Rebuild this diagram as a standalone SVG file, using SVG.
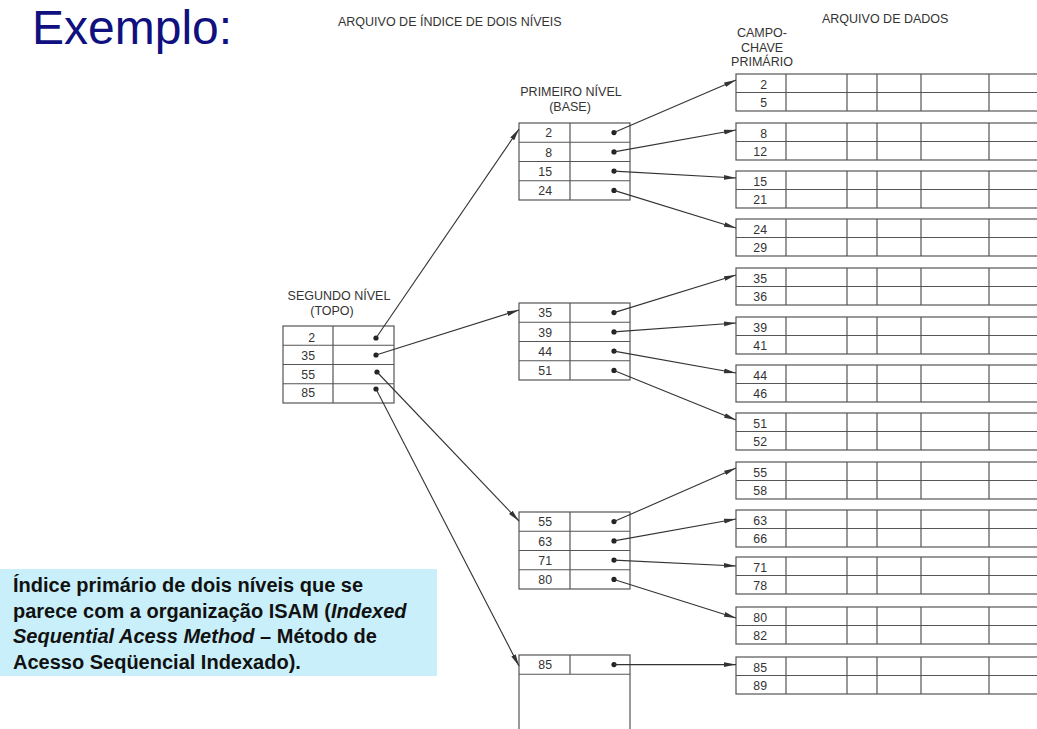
<svg xmlns="http://www.w3.org/2000/svg" width="1037" height="729" viewBox="0 0 1037 729">
<style>
.c{fill:none;stroke:#555;stroke-width:1.2}
.n{font-family:"Liberation Sans",Arial,sans-serif;font-size:12.3px;fill:#333;text-anchor:end}
.h{font-family:"Liberation Sans",Arial,sans-serif;font-size:12.5px;fill:#333}
.m{text-anchor:middle}
.dot{fill:#222}
.ln{fill:none;stroke:#333;stroke-width:1.1;marker-end:url(#ah)}
.box{font-family:"Liberation Sans",Arial,sans-serif;font-size:20px;font-weight:bold;fill:#111}
</style>
<defs>
<marker id="ah" viewBox="0 0 12 6" refX="12" refY="3" markerWidth="12" markerHeight="6" markerUnits="userSpaceOnUse" orient="auto">
<path d="M0 0.6L12 3L0 5.4Z" fill="#333"/>
</marker>
</defs>
<rect width="1037" height="729" fill="#fff"/>

<g id="title"><text x="32" y="44" font-family="Liberation Sans, Arial, sans-serif" font-size="48" fill="#10107f">Exemplo:</text></g>

<g id="headers">
<text class="h" x="338" y="26">ARQUIVO DE ÍNDICE DE DOIS NÍVEIS</text>
<text class="h" x="822" y="23">ARQUIVO DE DADOS</text>
<text class="h m" x="762" y="37">CAMPO-</text>
<text class="h m" x="762" y="51.5">CHAVE</text>
<text class="h m" x="762" y="66">PRIMÁRIO</text>
<text class="h m" x="571" y="96">PRIMEIRO NÍVEL</text>
<text class="h m" x="570" y="111">(BASE)</text>
<text class="h m" x="339" y="300">SEGUNDO NÍVEL</text>
<text class="h m" x="332" y="315">(TOPO)</text>
</g>

<g id="second-level">
<rect class="c" x="283" y="326" width="111" height="77"/>
<path class="c" d="M283 345.25H394M283 364.5H394M283 383.75H394M333 326V403"/>
<text class="n" x="315" y="342">2</text>
<text class="n" x="315" y="359.5">35</text>
<text class="n" x="315" y="378.5">55</text>
<text class="n" x="315" y="396.5">85</text>
<circle class="dot" cx="376" cy="338" r="2.6"/>
<circle class="dot" cx="376" cy="355" r="2.6"/>
<circle class="dot" cx="377" cy="372" r="2.6"/>
<circle class="dot" cx="376" cy="389" r="2.6"/>
</g>

<g id="first-level-1">
<rect class="c" x="519" y="123" width="111" height="77"/>
<path class="c" d="M519 142.25H630M519 161.5H630M519 180.75H630M570 123V200"/>
<text class="n" x="552" y="137.3">2</text>
<text class="n" x="552" y="156.5">8</text>
<text class="n" x="552" y="175.8">15</text>
<text class="n" x="552" y="195">24</text>
<circle class="dot" cx="614" cy="132.6" r="2.6"/>
<circle class="dot" cx="614" cy="151.9" r="2.6"/>
<circle class="dot" cx="614" cy="171.1" r="2.6"/>
<circle class="dot" cx="614" cy="190.4" r="2.6"/>
</g>

<g id="first-level-2">
<rect class="c" x="519" y="303" width="111" height="77"/>
<path class="c" d="M519 322.25H630M519 341.5H630M519 360.75H630M570 303V380"/>
<text class="n" x="552" y="317.3">35</text>
<text class="n" x="552" y="336.5">39</text>
<text class="n" x="552" y="355.8">44</text>
<text class="n" x="552" y="375">51</text>
<circle class="dot" cx="614" cy="312.6" r="2.6"/>
<circle class="dot" cx="614" cy="331.9" r="2.6"/>
<circle class="dot" cx="614" cy="351.1" r="2.6"/>
<circle class="dot" cx="614" cy="370.4" r="2.6"/>
</g>

<g id="first-level-3">
<rect class="c" x="519" y="512" width="111" height="77"/>
<path class="c" d="M519 531.25H630M519 550.5H630M519 569.75H630M570 512V589"/>
<text class="n" x="552" y="526.3">55</text>
<text class="n" x="552" y="545.5">63</text>
<text class="n" x="552" y="564.8">71</text>
<text class="n" x="552" y="584">80</text>
<circle class="dot" cx="614" cy="521.6" r="2.6"/>
<circle class="dot" cx="614" cy="540.9" r="2.6"/>
<circle class="dot" cx="614" cy="560.1" r="2.6"/>
<circle class="dot" cx="614" cy="579.4" r="2.6"/>
</g>

<g id="first-level-4">
<rect class="c" x="519" y="655" width="111" height="90"/>
<path class="c" d="M519 674.25H630M570 655V674.25"/>
<text class="n" x="552" y="669.3">85</text>
<circle class="dot" cx="614" cy="664.6" r="2.6"/>
</g>

<g id="data-2"><rect class="c" x="736" y="74" width="310" height="37"/><path class="c" d="M736 92.5H1046M786 74V111M847 74V111M877 74V111M921 74V111M989 74V111"/><text class="n" x="767" y="88.5">2</text><text class="n" x="767" y="107">5</text></g>
<g id="data-8"><rect class="c" x="736" y="123" width="310" height="37"/><path class="c" d="M736 141.5H1046M786 123V160M847 123V160M877 123V160M921 123V160M989 123V160"/><text class="n" x="767" y="137.5">8</text><text class="n" x="767" y="156">12</text></g>
<g id="data-15"><rect class="c" x="736" y="171" width="310" height="37"/><path class="c" d="M736 189.5H1046M786 171V208M847 171V208M877 171V208M921 171V208M989 171V208"/><text class="n" x="767" y="185.5">15</text><text class="n" x="767" y="204">21</text></g>
<g id="data-24"><rect class="c" x="736" y="219" width="310" height="37"/><path class="c" d="M736 237.5H1046M786 219V256M847 219V256M877 219V256M921 219V256M989 219V256"/><text class="n" x="767" y="233.5">24</text><text class="n" x="767" y="252">29</text></g>
<g id="data-35"><rect class="c" x="736" y="268" width="310" height="37"/><path class="c" d="M736 286.5H1046M786 268V305M847 268V305M877 268V305M921 268V305M989 268V305"/><text class="n" x="767" y="282.5">35</text><text class="n" x="767" y="301">36</text></g>
<g id="data-39"><rect class="c" x="736" y="317" width="310" height="37"/><path class="c" d="M736 335.5H1046M786 317V354M847 317V354M877 317V354M921 317V354M989 317V354"/><text class="n" x="767" y="331.5">39</text><text class="n" x="767" y="350">41</text></g>
<g id="data-44"><rect class="c" x="736" y="365" width="310" height="37"/><path class="c" d="M736 383.5H1046M786 365V402M847 365V402M877 365V402M921 365V402M989 365V402"/><text class="n" x="767" y="379.5">44</text><text class="n" x="767" y="398">46</text></g>
<g id="data-51"><rect class="c" x="736" y="413" width="310" height="37"/><path class="c" d="M736 431.5H1046M786 413V450M847 413V450M877 413V450M921 413V450M989 413V450"/><text class="n" x="767" y="427.5">51</text><text class="n" x="767" y="446">52</text></g>
<g id="data-55"><rect class="c" x="736" y="462" width="310" height="37"/><path class="c" d="M736 480.5H1046M786 462V499M847 462V499M877 462V499M921 462V499M989 462V499"/><text class="n" x="767" y="476.5">55</text><text class="n" x="767" y="495">58</text></g>
<g id="data-63"><rect class="c" x="736" y="510" width="310" height="37"/><path class="c" d="M736 528.5H1046M786 510V547M847 510V547M877 510V547M921 510V547M989 510V547"/><text class="n" x="767" y="524.5">63</text><text class="n" x="767" y="543">66</text></g>
<g id="data-71"><rect class="c" x="736" y="557" width="310" height="37"/><path class="c" d="M736 575.5H1046M786 557V594M847 557V594M877 557V594M921 557V594M989 557V594"/><text class="n" x="767" y="571.5">71</text><text class="n" x="767" y="590">78</text></g>
<g id="data-80"><rect class="c" x="736" y="607" width="310" height="37"/><path class="c" d="M736 625.5H1046M786 607V644M847 607V644M877 607V644M921 607V644M989 607V644"/><text class="n" x="767" y="621.5">80</text><text class="n" x="767" y="640">82</text></g>
<g id="data-85"><rect class="c" x="736" y="657" width="310" height="37"/><path class="c" d="M736 675.5H1046M786 657V694M847 657V694M877 657V694M921 657V694M989 657V694"/><text class="n" x="767" y="671.5">85</text><text class="n" x="767" y="690">89</text></g>

<g id="connectors">
<path class="ln" d="M376 338L519 129"/>
<path class="ln" d="M376 355L519 310"/>
<path class="ln" d="M377 372L519 521"/>
<path class="ln" d="M376 389L519 666"/>
<path class="ln" d="M614 132.6L736 80"/>
<path class="ln" d="M614 151.9L736 130"/>
<path class="ln" d="M614 171.1L736 178"/>
<path class="ln" d="M614 190.4L736 228"/>
<path class="ln" d="M614 312.6L736 275"/>
<path class="ln" d="M614 331.9L736 323"/>
<path class="ln" d="M614 351.1L736 373"/>
<path class="ln" d="M614 370.4L736 420"/>
<path class="ln" d="M614 521.6L736 468"/>
<path class="ln" d="M614 540.9L736 519"/>
<path class="ln" d="M614 560.1L736 566"/>
<path class="ln" d="M614 579.4L736 618"/>
<path class="ln" d="M614 664.6L736 664.6"/>
</g>

<g id="note">
<rect x="0" y="569" width="437" height="107" fill="#c9f0fa"/>
<text class="box" x="13" y="592">Índice primário de dois níveis que se</text>
<text class="box" x="13" y="617.5">parece com a organização ISAM (<tspan font-style="italic">Indexed</tspan></text>
<text class="box" x="13" y="643"><tspan font-style="italic">Sequential Acess Method</tspan> – Método de</text>
<text class="box" x="13" y="668.5">Acesso Seqüencial Indexado).</text>
</g>
</svg>
